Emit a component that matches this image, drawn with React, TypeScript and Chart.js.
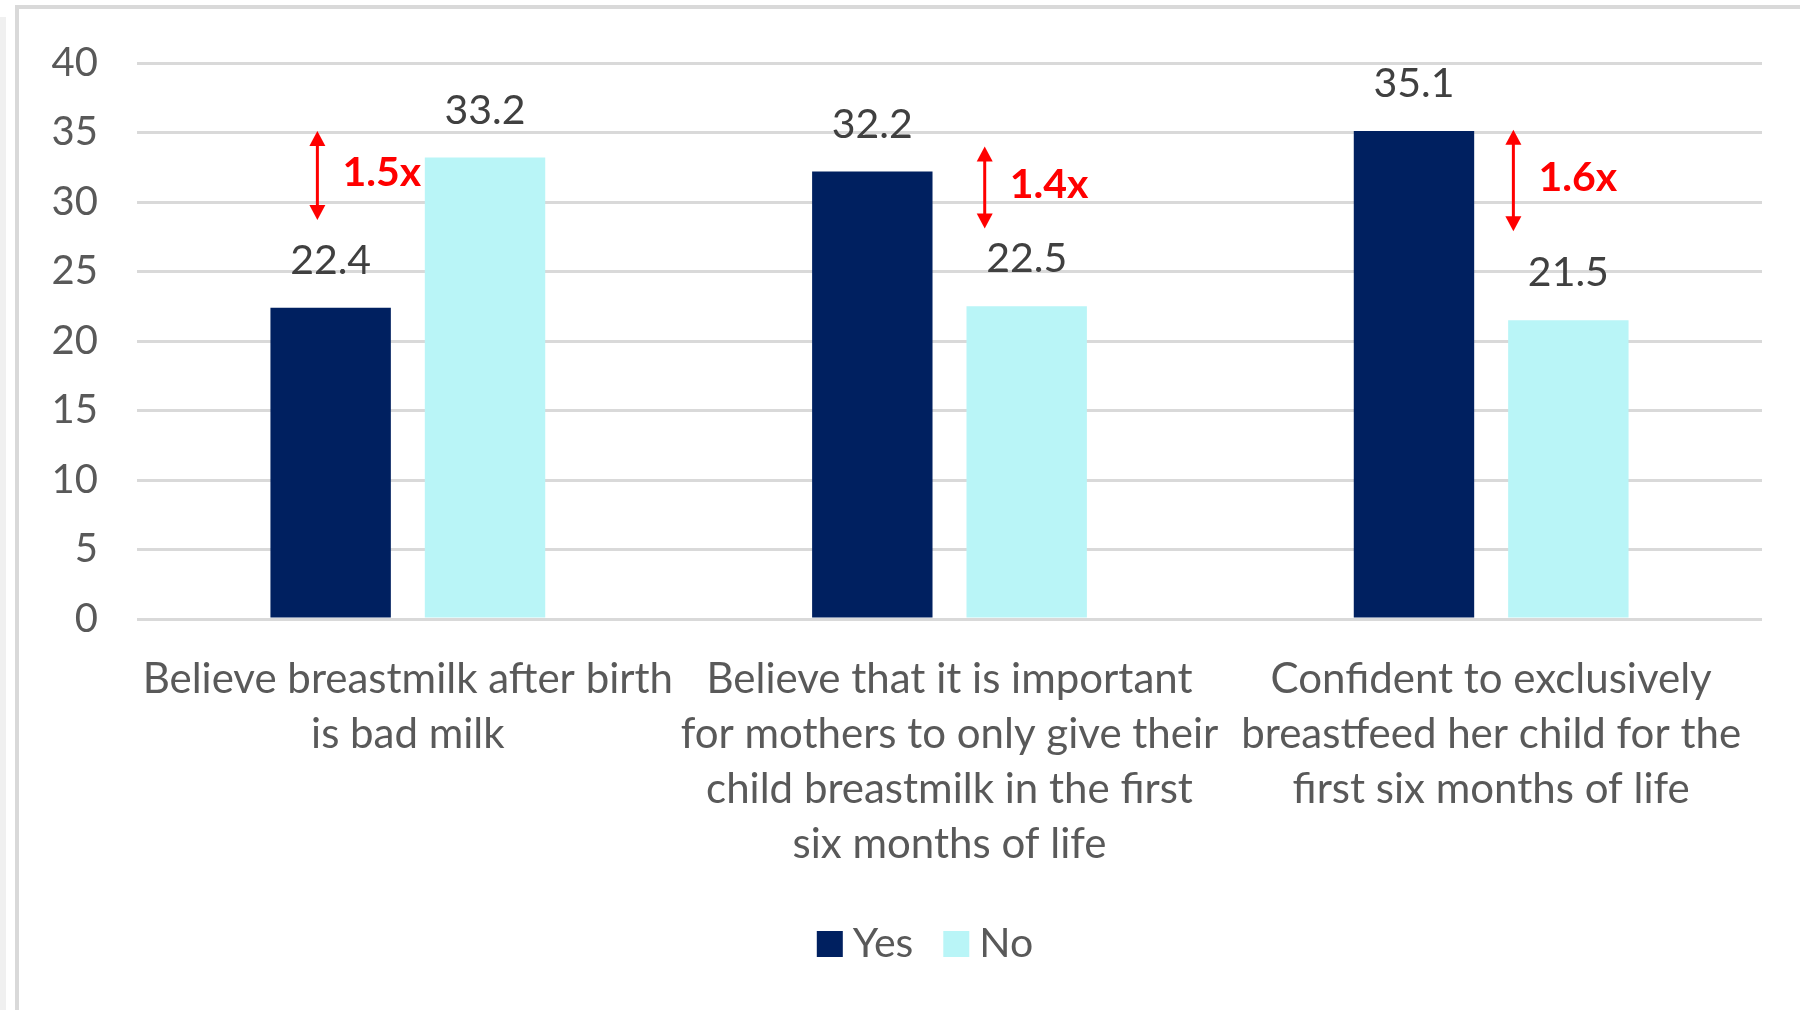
import React, { useEffect, useRef } from "react";
import { Chart, registerables } from "chart.js";

Chart.register(...registerables);

// ---- data ----
const categories: string[][] = [
  ["Believe breastmilk after birth", "is bad milk"],
  ["Believe that it is important", "for mothers to only give their", "child breastmilk in the first", "six months of life"],
  ["Confident to exclusively", "breastfeed her child for the", "first six months of life"],
];
const seriesNames = ["Yes", "No"];
const yesValues = [22.4, 32.2, 35.1];
const noValues = [33.2, 22.5, 21.5];
const yMin = 0;
const yMax = 40;
const yStep = 5;

// ratio annotations (red double arrows)
const ratioLabels = ["1.5x", "1.4x", "1.6x"];
const arrowTopValues = [35.1, 34.0, 35.2];
const arrowBottomValues = [28.7, 28.1, 27.9];
const arrowCategoryOffset = [-0.167, 0.065, 0.041]; // fraction of category width from category centre

// ---- styles ----
const YES_COLOR = "#002060";
const NO_COLOR = "#B9F5F7";
const GRID_COLOR = "#D9D9D9";
const TEXT_COLOR = "#595959";
const VALUE_COLOR = "#404040";
const RED = "#FF0000";
const FONT = "Lato, 'Open Sans', sans-serif";

const annotationPlugin = {
  id: "annotations",
  afterDatasetsDraw(chart: any) {
    const ctx = chart.ctx as CanvasRenderingContext2D;
    const yScale = chart.scales.y;
    const xScale = chart.scales.x;
    ctx.save();
    // value labels
    ctx.font = `41px ${FONT}`;
    ctx.fillStyle = VALUE_COLOR;
    ctx.textAlign = "center";
    ctx.textBaseline = "middle";
    chart.data.datasets.forEach((ds: any, di: number) => {
      const meta = chart.getDatasetMeta(di);
      meta.data.forEach((bar: any, i: number) => {
        const v = ds.data[i];
        ctx.fillText(v.toFixed(1), bar.x, bar.y - 47);
      });
    });
    // arrows
    const catW = xScale.getPixelForValue(1) - xScale.getPixelForValue(0);
    ratioLabels.forEach((lab, i) => {
      const x = xScale.getPixelForValue(i) + arrowCategoryOffset[i] * catW;
      const yT = yScale.getPixelForValue(arrowTopValues[i]);
      const yB = yScale.getPixelForValue(arrowBottomValues[i]);
      const headH = 15;
      const headW = 8;
      ctx.strokeStyle = RED;
      ctx.fillStyle = RED;
      ctx.lineWidth = 3;
      ctx.beginPath();
      ctx.moveTo(x, yT + headH - 2);
      ctx.lineTo(x, yB - headH + 2);
      ctx.stroke();
      ctx.beginPath();
      ctx.moveTo(x, yT);
      ctx.lineTo(x - headW, yT + headH);
      ctx.lineTo(x + headW, yT + headH);
      ctx.closePath();
      ctx.fill();
      ctx.beginPath();
      ctx.moveTo(x, yB);
      ctx.lineTo(x - headW, yB - headH);
      ctx.lineTo(x + headW, yB - headH);
      ctx.closePath();
      ctx.fill();
      ctx.font = `bold 41px ${FONT}`;
      ctx.textAlign = "left";
      ctx.textBaseline = "middle";
      ctx.fillText(lab, x + 25, (yT + yB) / 2 - 3);
    });

    // legend
    const legendCenterX = 925;
    const legendCenterY = 944;
    const box = 26;
    const gapBoxText = 10;
    const gapItems = 30;
    ctx.font = `41px ${FONT}`;
    const items = chart.data.datasets.map((ds: any) => ({
      label: ds.label as string,
      color: ds.backgroundColor as string,
      w: ctx.measureText(ds.label).width,
    }));
    const total =
      items.reduce((s: number, it: any) => s + box + gapBoxText + it.w, 0) + gapItems * (items.length - 1);
    let cx = legendCenterX - total / 2;
    items.forEach((it: any) => {
      ctx.fillStyle = it.color;
      ctx.fillRect(cx, legendCenterY - box / 2, box, box);
      cx += box + gapBoxText;
      ctx.fillStyle = TEXT_COLOR;
      ctx.textAlign = "left";
      ctx.textBaseline = "middle";
      ctx.fillText(it.label, cx, legendCenterY);
      cx += it.w + gapItems;
    });
    ctx.restore();
  },
};

export default function App() {
  const canvasRef = useRef<HTMLCanvasElement | null>(null);

  useEffect(() => {
    const canvas = canvasRef.current;
    if (!canvas) return;
    const chart = new Chart(canvas, {
      type: "bar",
      data: {
        labels: categories,
        datasets: [
          {
            label: seriesNames[0],
            data: yesValues,
            backgroundColor: YES_COLOR,
            categoryPercentage: 0.57,
            barPercentage: 0.78,
          },
          {
            label: seriesNames[1],
            data: noValues,
            backgroundColor: NO_COLOR,
            categoryPercentage: 0.57,
            barPercentage: 0.78,
          },
        ],
      },
      options: {
        responsive: false,
        animation: false,
        devicePixelRatio: 1,
        layout: { padding: { left: 0, right: 38, top: 62, bottom: 95 } },
        plugins: {
          legend: { display: false },
          tooltip: { enabled: false },
        },
        scales: {
          x: {
            grid: { display: false, drawTicks: false },
            border: { display: false },
            ticks: {
              color: TEXT_COLOR,
              font: { size: 42, family: FONT, lineHeight: 1.31 },
              padding: 33,
              maxRotation: 0,
              minRotation: 0,
              autoSkip: false,
            },
            afterFit(scale: any) {
              scale.height = 296;
            },
          },
          y: {
            min: yMin,
            max: yMax,
            grid: { color: GRID_COLOR, lineWidth: 3, drawTicks: false },
            border: { display: false },
            ticks: {
              stepSize: yStep,
              color: TEXT_COLOR,
              font: { size: 40, family: FONT },
              padding: 39,
            },
            afterFit(scale: any) {
              scale.width = 137;
            },
          },
        },
      },
      plugins: [annotationPlugin],
    });
    return () => chart.destroy();
  }, []);

  return (
    <div style={{ position: "fixed", left: 0, top: 0, width: 1800, height: 1010, background: "#fff", overflow: "hidden" }}>
      <div style={{ position: "absolute", left: 0, top: 17, width: 6, height: 1000, background: "#F0F0F0" }} />
      <div
        style={{
          position: "absolute",
          left: 15,
          top: 5,
          width: 1800,
          height: 1010,
          borderTop: `4px solid ${GRID_COLOR}`,
          borderLeft: `4px solid ${GRID_COLOR}`,
        }}
      />
      <canvas ref={canvasRef} width={1800} height={1010} style={{ position: "absolute", left: 0, top: 0, width: 1800, height: 1010 }} />
    </div>
  );
}
